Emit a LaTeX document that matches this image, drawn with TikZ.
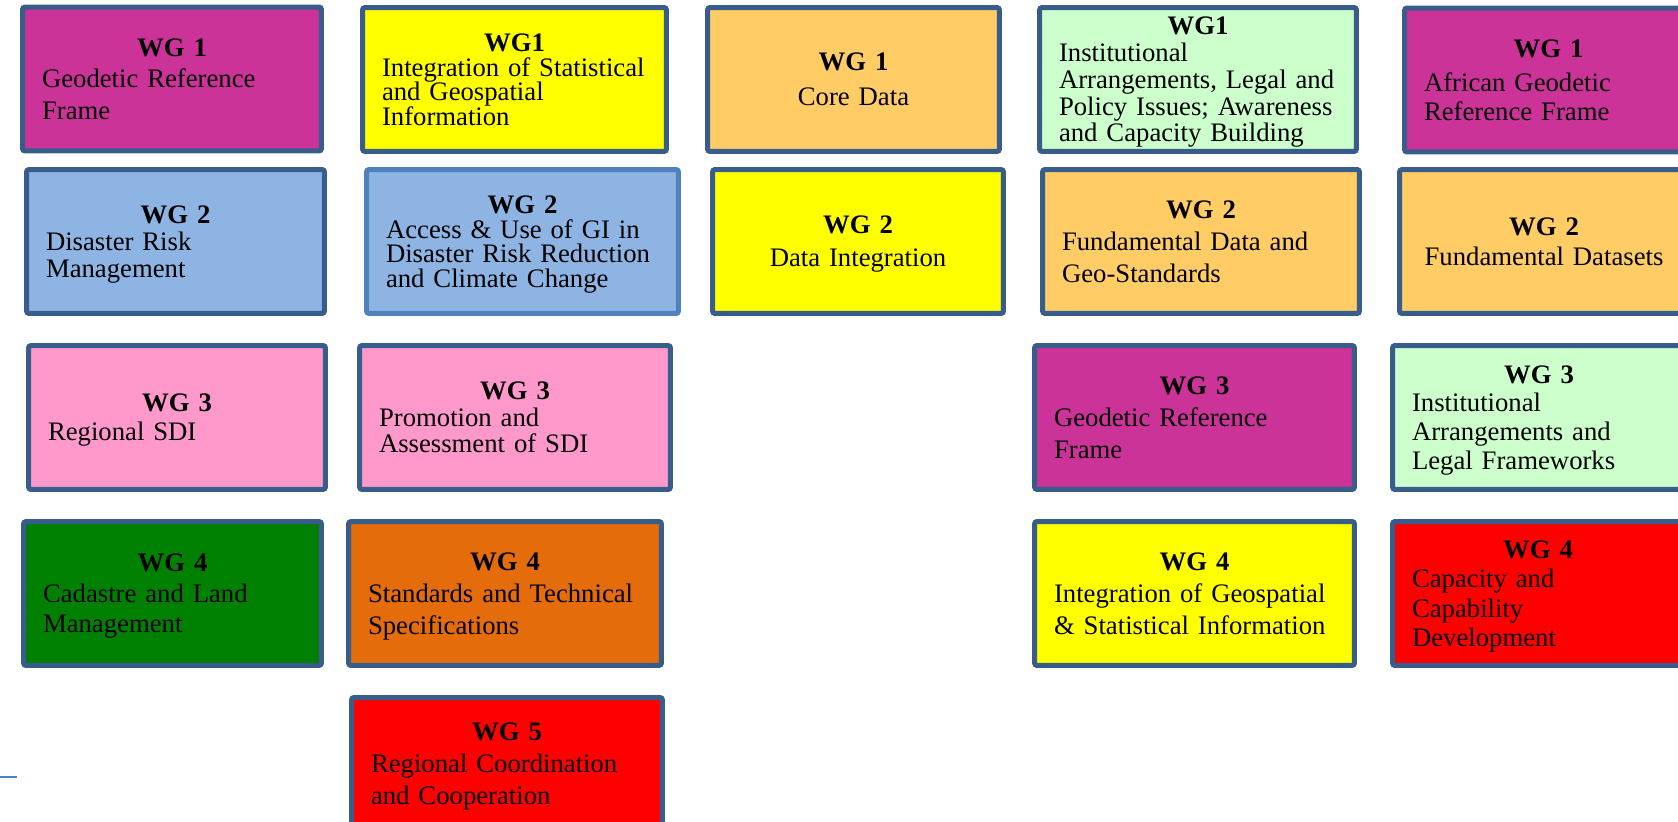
\documentclass[tikz,border=0pt]{standalone}
\usepackage{fontspec}
\setmainfont{Liberation Serif}

\definecolor{wgline}{HTML}{385D8A}
\definecolor{wglight}{HTML}{4F81BD}
\definecolor{wgmagenta}{HTML}{CC3399}
\definecolor{wgyellow}{HTML}{FFFF00}
\definecolor{wgsand}{HTML}{FFCC66}
\definecolor{wgmint}{HTML}{CCFFCC}
\definecolor{wgsky}{HTML}{8EB4E3}
\definecolor{wgpink}{HTML}{FF99CC}
\definecolor{wggreen}{HTML}{008000}
\definecolor{wgorange}{HTML}{E46C0A}
\definecolor{wgred}{HTML}{FF0000}

% drop the descender of the last line so boxes centre alike
\newcommand{\wgcut}{\par\kern-\prevdepth}

\begin{document}
\begin{tikzpicture}[x=0.02cm, y=-0.02cm,
  wg/.style={draw=wgline, line width=1mm, rounded corners=0.5mm, inner sep=0pt,
    minimum height=2.88cm, font=\fontsize{15.2pt}{#1}\selectfont,
    execute at begin node=\setlength{\parindent}{0pt},
    execute at end node=\wgcut},
  wg/.default=18pt]
\clip (0,0) rectangle (1678,822);

% column 1
\node[wg=18pt, fill=wgmagenta, minimum width=5.98cm, text width=5.2cm] (c1wg1) at (172,79)
  {\centering\textbf{WG 1}\par\raggedright Geodetic Reference\\Frame};
\node[wg=15.5pt, fill=wgsky, minimum width=5.96cm, text width=5.18cm] (c1wg2) at (175.5,241.5)
  {\centering\textbf{WG 2}\par\raggedright Disaster Risk\\Management};
\node[wg=16.4pt, fill=wgpink, minimum width=5.94cm, text width=5.16cm] (c1wg3) at (177,417.5)
  {\centering\textbf{WG 3}\par\raggedright Regional SDI};
\node[wg=17.3pt, fill=wggreen, minimum width=5.96cm, text width=5.18cm] (c1wg4) at (172.5,593.5)
  {\centering\textbf{WG 4}\par\raggedright Cadastre and Land\\Management};

% column 2
\node[wg=14pt, fill=wgyellow, minimum width=6.08cm, text width=5.3cm] (c2wg1) at (514.5,79.5)
  {\centering\textbf{WG1}\par\raggedright Integration of Statistical\\and Geospatial\\Information};
\node[wg=14pt, draw=wglight, fill=wgsky, minimum width=6.24cm, text width=5.46cm] (c2wg2) at (522.5,241.5)
  {\centering\textbf{WG 2}\par\raggedright Access \& Use of GI in\\Disaster Risk Reduction\\and Climate Change};
\node[wg=15pt, fill=wgpink, minimum width=6.22cm, text width=5.44cm] (c2wg3) at (515,417.5)
  {\centering\textbf{WG 3}\par\raggedright Promotion and\\Assessment of SDI};
\node[wg=18.2pt, fill=wgorange, minimum width=6.26cm, text width=5.48cm] (c2wg4) at (505,593.5)
  {\centering\textbf{WG 4}\par\raggedright Standards and Technical\\Specifications};
\node[wg=18.2pt, fill=wgred, minimum width=6.22cm, minimum height=2.64cm, text width=5.44cm] (c2wg5) at (507,763.5)
  {\centering\textbf{WG 5}\par\raggedright Regional Coordination\\and Cooperation};

% column 3
\node[wg=20pt, fill=wgsand, minimum width=5.84cm, text width=5.06cm] (c3wg1) at (853.5,79.5)
  {\centering\textbf{WG 1}\\Core Data\par};
\node[wg=18.8pt, fill=wgyellow, minimum width=5.82cm, text width=5.04cm] (c3wg2) at (858,241.5)
  {\centering\textbf{WG 2}\\Data Integration\par};

% column 4
\node[wg=15.2pt, fill=wgmint, minimum width=6.34cm, text width=5.56cm] (c4wg1) at (1198,79.5)
  {\centering\textbf{WG1}\par\raggedright Institutional\\Arrangements, Legal and\\Policy Issues; Awareness\\and Capacity Building};
\node[wg=18.2pt, fill=wgsand, minimum width=6.34cm, text width=5.56cm] (c4wg2) at (1201,241.5)
  {\centering\textbf{WG 2}\par\raggedright Fundamental Data and\\Geo-Standards};
\node[wg=18.2pt, fill=wgmagenta, minimum width=6.40cm, text width=5.62cm] (c4wg3) at (1194.5,417.5)
  {\centering\textbf{WG 3}\par\raggedright Geodetic Reference\\Frame};
\node[wg=18.2pt, fill=wgyellow, minimum width=6.40cm, text width=5.62cm] (c4wg4) at (1194.5,593.5)
  {\centering\textbf{WG 4}\par\raggedright Integration of Geospatial\\\& Statistical Information};

% column 5 (runs off the right edge)
\node[wg=16.4pt, fill=wgmagenta, minimum width=5.76cm, text width=4.98cm] (c5wg1) at (1548.5,80)
  {\centering\textbf{WG 1}\par\vspace{3pt}\raggedright African Geodetic\\Reference Frame};
\node[wg=17pt, fill=wgsand, minimum width=5.78cm, text width=5.0cm] (c5wg2) at (1544,241.5)
  {\centering\textbf{WG 2}\\Fundamental Datasets\par};
\node[wg=16.4pt, fill=wgmint, minimum width=5.86cm, text width=5.08cm] (c5wg3) at (1539,417.5)
  {\centering\textbf{WG 3}\par\raggedright Institutional\\Arrangements and\\Legal Frameworks};
\node[wg=16.8pt, fill=wgred, minimum width=5.82cm, text width=5.04cm] (c5wg4) at (1538,593.5)
  {\centering\textbf{WG 4}\par\raggedright Capacity and\\Capability\\Development};

% stray rule, bottom left
\coordinate (stub) at (0,777);
\draw[wglight, line width=0.4mm] (stub) -- ++(17,0);
\end{tikzpicture}
\end{document}
